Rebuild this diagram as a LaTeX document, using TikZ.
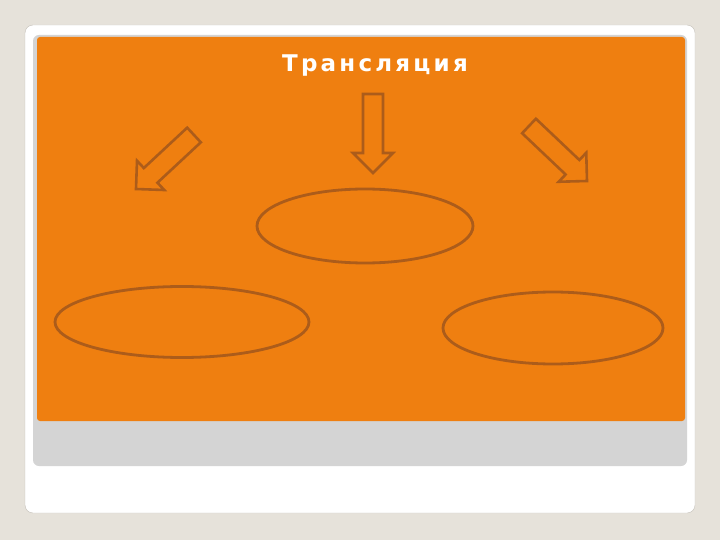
\documentclass[tikz,border=0pt]{standalone}
\usepackage{fontspec}
\newfontfamily\titlefont[LetterSpace=14]{DejaVu Sans Bold}
\usetikzlibrary{calc,shapes.geometric}
\definecolor{slidebg}{HTML}{E6E2DA}
\definecolor{cardline}{HTML}{C4C0B8}
\definecolor{panelgray}{HTML}{D4D4D4}
\definecolor{slideorange}{HTML}{EF7F10}
\definecolor{shapeline}{HTML}{AC5C1A}
\tikzset{
    arrowline/.style={draw=shapeline,line width=2.6pt,line join=miter},
    oval/.style={ellipse,draw=shapeline,line width=2.8pt,inner sep=0pt}
}
\newcommand\blockarrow[2]{%
    \coordinate (#2-b) at ($(#2)!20pt!(#1)$);
    \draw[arrowline] ($(#1)!10pt!90:(#2)$) -- ($(#2-b)!10pt!-90:(#1)$)
        -- ($(#2-b)!20pt!-90:(#1)$) -- (#2) -- ($(#2-b)!20pt!90:(#1)$)
        -- ($(#2-b)!10pt!90:(#1)$) -- ($(#1)!10pt!-90:(#2)$) -- cycle;}
\begin{document}
\begin{tikzpicture}[x=1pt,y=-1pt]
        \fill[slidebg] (0,0) rectangle (720,540);
        \useasboundingbox (0,0) rectangle (720,540);
        \draw[cardline,fill=white,rounded corners=8pt] (25,25) rectangle (695,513);
        \fill[panelgray,rounded corners=6pt] (33,35) rectangle (687,466);
        \fill[slideorange,rounded corners=3pt] (37,37) rectangle (685,421);
        \node[text=white,anchor=base,font=\titlefont\fontsize{23}{27}\selectfont] (title) at (375,72) {Трансляция};
        \begin{scope}
            \coordinate (ltail) at (194,135);
            \coordinate (ltip) at (136,189);
            \coordinate (mtail) at (373,94);
            \coordinate (mtip) at (373,173);
            \coordinate (rtail) at (529,126);
            \coordinate (rtip) at (587,181);
        \end{scope}
        \blockarrow{ltail}{ltip}
        \blockarrow{mtail}{mtip}
        \blockarrow{rtail}{rtip}
        \begin{scope}[every node/.style={oval}]
            \node[minimum width=216pt,minimum height=74pt] (top) at (365,226) {};
            \node[minimum width=254pt,minimum height=71pt] (left) at (182,322) {};
            \node[minimum width=220pt,minimum height=72pt] (right) at (553,328) {};
        \end{scope}
    \end{tikzpicture}
\end{document}
